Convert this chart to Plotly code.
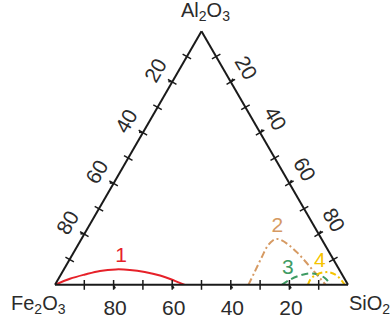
import plotly.graph_objects as go

# ---- data (percent): Al2O3 (a), Fe2O3 (b), SiO2 (c) ----
c1_al = [0, 2.4, 4.1, 5.5, 6.1, 5.9, 5.1, 3.7, 1.6, 0]
c1_fe = [100, 93.7, 87.7, 81.9, 76.2, 71.5, 66.8, 62.3, 58.3, 55.7]
c1_si = [0, 3.9, 8.2, 12.6, 17.7, 22.6, 28.1, 34.0, 40.1, 44.3]

c2_al = [0, 5.1, 11.0, 15.4, 17.5, 18.1, 17.5, 15.4, 12.6, 9.1, 5.9, 2.8, 0]
c2_fe = [34.0, 29.3, 23.9, 19.7, 16.9, 15.3, 13.8, 12.2, 10.9, 9.9, 9.1, 8.3, 7.6]
c2_si = [66.0, 65.6, 65.1, 64.9, 65.6, 66.6, 68.7, 72.4, 76.5, 81.0, 85.0, 88.9, 92.4]

c3_al = [0, 2.0, 3.4, 4.3, 4.5, 3.9, 2.4, 0]
c3_fe = [22.6, 18.9, 15.5, 12.3, 9.8, 7.7, 6.4, 5.9]
c3_si = [77.4, 79.1, 81.1, 83.4, 85.7, 88.4, 91.2, 94.1]

c4_al = [0, 2.4, 3.9, 4.9, 4.9, 3.9, 2.2, 0]
c4_fe = [13.7, 11.5, 9.0, 6.2, 3.8, 2.2, 1.4, 1.1]
c4_si = [86.3, 86.1, 87.1, 88.9, 91.3, 93.9, 96.4, 98.9]

curve_names = ["1", "2", "3", "4"]
label_al = [11.1, 22.8, 6.3, 9.3]
label_fe = [71.9, 12.7, 17.4, 5.0]
label_si = [17.0, 64.5, 76.3, 85.7]

minor_ticks = [10, 20, 30, 40, 50, 60, 70, 80, 90]
label_vals = [20, 40, 60, 80]
bottom_text = ["20", "40", "60", "80"]   # Fe2O3 along base
left_text = ["80", "60", "40", "20"]     # Fe2O3 along left edge
right_text = ["20", "40", "60", "80"]    # SiO2 along right edge

colors = ["#E62129", "#D69A63", "#3E9B63", "#F6C400"]
dashes = ["solid", "7px,3px,2px,3px", "7px,4px", "6px,3px,2px,3px"]

FONT = "Liberation Sans, Arial, sans-serif"
TXT = "#2b2b2b"

fig = go.Figure()

curves = [(c1_al, c1_fe, c1_si), (c2_al, c2_fe, c2_si),
          (c3_al, c3_fe, c3_si), (c4_al, c4_fe, c4_si)]
for (a, b, c), col, d in zip(curves, colors, dashes):
    fig.add_trace(go.Scatterternary(
        a=a, b=b, c=c, mode="lines",
        line=dict(color=col, width=2, dash=d, shape="spline", smoothing=1),
        cliponaxis=False, hoverinfo="skip"))

# curve numbers
fig.add_trace(go.Scatterternary(
    a=label_al, b=label_fe, c=label_si, mode="text", text=curve_names,
    textfont=dict(family=FONT, size=21, color=colors),
    textposition="middle center", cliponaxis=False, hoverinfo="skip"))

# crossing tick marks on the three edges (every 10 %)
zeros = [0] * len(minor_ticks)
comp = [100 - v for v in minor_ticks]
edges = [
    (zeros, minor_ticks, comp, 0),     # base: a=0, b=v
    (minor_ticks, comp, zeros, -60),   # left edge: c=0
    (comp, zeros, minor_ticks, 60),    # right edge: b=0
]
for a, b, c, ang in edges:
    fig.add_trace(go.Scatterternary(
        a=a, b=b, c=c, mode="markers",
        marker=dict(symbol="line-ns", size=7, angle=ang,
                    line=dict(color="#1a1a1a", width=1.5)),
        cliponaxis=False, hoverinfo="skip"))

axis_common = dict(
    showgrid=False, showline=True, linecolor="#1a1a1a", linewidth=2,
    ticks="outside", ticklen=3, tickcolor="#1a1a1a", tickwidth=1.5,
    tickmode="array", tickvals=label_vals,
    tickfont=dict(family=FONT, size=21, color=TXT),
    title=dict(text=""),
)

fig.update_layout(
    width=391, height=320,
    margin=dict(l=55, r=43, t=31, b=35, autoexpand=False),
    paper_bgcolor="white",
    showlegend=False,
    hovermode=False,
    ternary=dict(
        sum=100,
        bgcolor="white",
        aaxis=dict(axis_common, ticktext=left_text, tickangle=-60),
        baxis=dict(axis_common, ticktext=bottom_text, tickangle=0),
        caxis=dict(axis_common, ticktext=right_text, tickangle=60),
    ),
    annotations=[
        dict(text="Al<sub>2</sub>O<sub>3</sub>", x=0.515, y=1.075,
             xref="paper", yref="paper", xanchor="center", yanchor="middle",
             showarrow=False, font=dict(family=FONT, size=20, color=TXT)),
        dict(text="Fe<sub>2</sub>O<sub>3</sub>", x=-0.058, y=-0.075,
             xref="paper", yref="paper", xanchor="center", yanchor="middle",
             showarrow=False, font=dict(family=FONT, size=20, color=TXT)),
        dict(text="SiO<sub>2</sub>", x=1.075, y=-0.075,
             xref="paper", yref="paper", xanchor="center", yanchor="middle",
             showarrow=False, font=dict(family=FONT, size=20, color=TXT)),
    ],
)

# remove the browser's default 8px page margin so the figure sits at the window corner
fig.write_html("out.html", config={"displayModeBar": False},
               post_script="document.body.style.margin='0px';")
